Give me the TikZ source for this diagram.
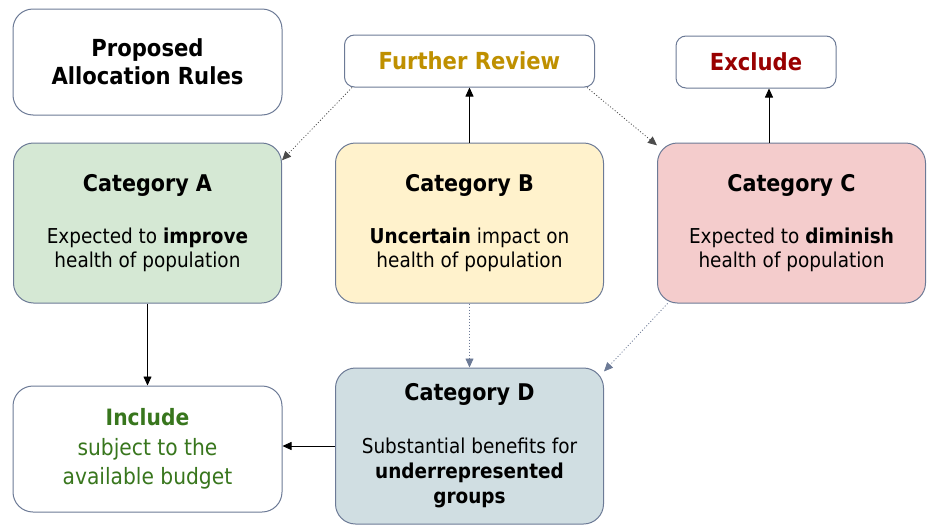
\documentclass[tikz,border=0pt]{standalone}
\usepackage{fontspec}
\setmainfont{DejaVu Sans Condensed}
\usetikzlibrary{arrows.meta,positioning}
\definecolor{slate}{RGB}{108,122,150}
\definecolor{greenbox}{RGB}{213,232,212}
\definecolor{yellowbox}{RGB}{255,242,204}
\definecolor{pinkbox}{RGB}{244,204,204}
\definecolor{bluebox}{RGB}{208,222,226}
\definecolor{gold}{RGB}{191,144,0}
\definecolor{darkred}{RGB}{153,0,0}
\definecolor{leaf}{RGB}{56,118,29}
\newcommand\cathead[1]{{\fontsize{23}{24}\selectfont\bfseries #1}\\[28pt]}

\begin{document}
\begin{tikzpicture}[
  x=1pt, y=1pt,
  node distance=53pt,
  box/.style={draw=slate, line width=1pt, rounded corners=20pt, align=center, fill=white, font=\fontsize{20.5}{24}\selectfont},
  cat/.style={box, minimum width=268pt, minimum height=160pt},
  tag/.style={box, rounded corners=10pt, minimum height=52pt, font=\fontsize{23.5}{24}\selectfont\bfseries},
  arr/.style={-{Triangle[length=9pt,width=8pt]}, line width=0.8pt},
  dots/.style={arr, dash pattern=on 1pt off 2pt}
]
\useasboundingbox (0,0) rectangle (932,-525);
\node[cat, fill=greenbox] (catA) at (147.5,-223) {\cathead{Category A}Expected to \textbf{improve}\\health of population};
\node[cat, fill=yellowbox, right=of catA] (catB) {\cathead{Category B}\textbf{Uncertain} impact on\\health of population};
\node[cat, fill=pinkbox, right=of catB] (catC) {\cathead{Category C}Expected to \textbf{diminish}\\health of population};
\node[box, minimum width=269pt, minimum height=106pt, above=27pt of catA, font=\fontsize{23.5}{28}\selectfont\bfseries] (rules) {Proposed\\Allocation Rules};
\node[tag, minimum width=250pt, above=55pt of catB, text=gold] (review) {Further Review};
\node[tag, minimum width=160pt, text=darkred] (excl) at (756,-62) {Exclude};
\node[cat, fill=bluebox, minimum height=156pt, below=64pt of catB, font=\fontsize{20.5}{25}\selectfont] (catD) {\cathead{Category D}Substantial benefits for\\\textbf{underrepresented}\\\textbf{groups}};
\node[box, minimum width=269pt, minimum height=126pt, below=82pt of catA, text=leaf, font=\fontsize{22.5}{29.5}\selectfont] (incl) {\textbf{Include}\\subject to the\\available budget};
% solid moves
\draw[arr] (catA.south) -- (incl.north);
\draw[arr] (catB.north) -- (review.south);
\draw[arr] ([xshift=13pt]excl.south |- catC.north) -- ([xshift=13pt]excl.south);
\draw[arr] (catD.west) -- (catD.west -| incl.east);
% dotted moves
\draw[dots, black!70] ([xshift=8pt]review.south west) -- (catA.25);
\draw[dots, black!70] ([xshift=-8pt]review.south east) -- (catC.150);
\draw[dots, slate] (catB.south) -- (catD.north);
\draw[dots, slate] (catC.213) -- (catD.29);
\end{tikzpicture}
\end{document}
